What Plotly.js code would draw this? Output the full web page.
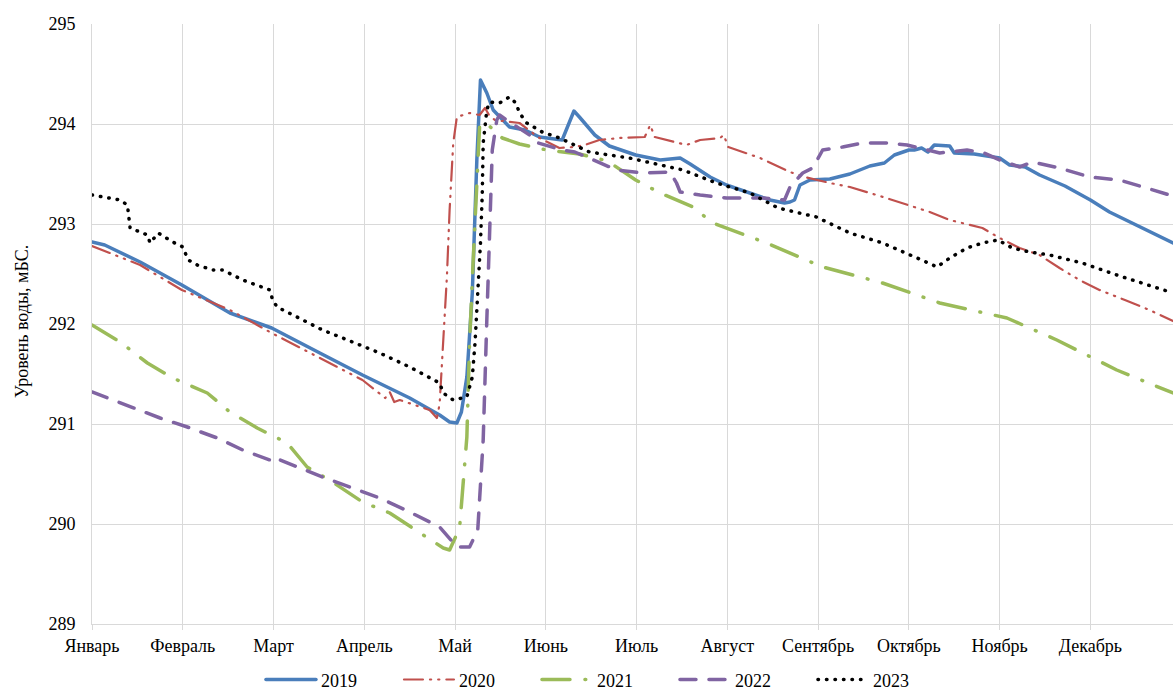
<!DOCTYPE html>
<html>
<head>
<meta charset="utf-8">
<script src="https://cdn.plot.ly/plotly-3.0.1.min.js"></script>
<style>
  html, body { margin: 0; padding: 0; background: #fff; }
  #chart { width: 1173px; height: 690px; }
  .scatterlayer .js-line, .legendlines path { stroke-linecap: round; stroke-linejoin: round; }
</style>
</head>
<body>
<div id="chart"></div>
<script>
// Month ticks (x positions are month indices, 0 = January)
const monthTicks = [0,1,2,3,4,5,6,7,8,9,10,11];
const monthLabels = ["Январь","Февраль","Март","Апрель","Май","Июнь","Июль","Август","Сентябрь","Октябрь","Ноябрь","Декабрь"];

const x2019 = [0,0.14,0.53,0.99,1.52,1.98,2.51,2.98,3.50,3.83,3.94,4.02,4.07,4.13,4.19,4.24,4.28,4.35,4.42,4.60,4.77,4.93,5.18,5.31,5.37,5.54,5.70,5.99,6.26,6.48,6.59,6.81,6.99,7.25,7.47,7.63,7.69,7.74,7.80,7.91,8.13,8.35,8.57,8.73,8.84,9.00,9.06,9.14,9.21,9.28,9.45,9.50,9.72,10.00,10.11,10.28,10.44,10.72,11.00,11.21,11.43,11.65,11.91];
const y2019 = [292.82,292.79,292.62,292.39,292.11,291.96,291.71,291.49,291.26,291.09,291.02,291.01,291.12,291.47,292.31,293.64,294.44,294.31,294.14,293.97,293.94,293.87,293.84,294.13,294.07,293.89,293.78,293.69,293.64,293.66,293.60,293.47,293.39,293.31,293.24,293.21,293.22,293.24,293.39,293.44,293.45,293.50,293.58,293.61,293.69,293.74,293.74,293.76,293.72,293.79,293.78,293.71,293.70,293.66,293.59,293.57,293.49,293.38,293.24,293.12,293.02,292.92,292.81];

const x2020 = [0,0.53,0.99,1.52,1.98,2.51,2.98,3.23,3.28,3.33,3.39,3.72,3.80,3.83,3.87,3.91,3.94,3.98,4.02,4.16,4.27,4.33,4.38,4.44,4.71,4.93,5.15,5.32,5.43,5.59,5.81,6.09,6.15,6.20,6.55,6.70,6.92,6.96,7.01,7.36,7.69,7.85,8.13,8.35,8.68,9.00,9.23,9.45,9.81,10.00,10.22,10.44,10.66,10.88,11.10,11.38,11.65,11.91];
const y2020 = [292.78,292.59,292.34,292.14,291.91,291.66,291.44,291.26,291.32,291.22,291.24,291.14,291.06,291.20,291.81,292.47,293.14,293.81,294.07,294.11,294.09,294.16,294.08,294.04,294.01,293.86,293.76,293.77,293.79,293.84,293.86,293.87,293.99,293.87,293.79,293.84,293.86,293.89,293.77,293.66,293.52,293.47,293.41,293.37,293.28,293.19,293.12,293.04,292.96,292.86,292.76,292.69,292.56,292.44,292.34,292.24,292.14,292.03];

const x2021 = [0,0.31,0.61,0.89,1.27,1.52,1.82,2.15,2.37,2.65,2.98,3.28,3.65,3.87,3.94,4.05,4.13,4.16,4.20,4.24,4.27,4.33,4.52,4.71,5.01,5.37,5.68,5.99,6.26,6.62,6.84,7.43,8.05,8.71,9.34,10.08,10.63,11.29,11.91];
const y2021 = [291.99,291.82,291.61,291.46,291.31,291.12,290.96,290.81,290.57,290.42,290.22,290.11,289.89,289.76,289.74,289.96,290.87,291.81,292.64,293.47,293.97,294.02,293.86,293.80,293.74,293.70,293.63,293.44,293.31,293.17,293.01,292.81,292.57,292.41,292.21,292.06,291.84,291.54,291.31];

const x2022 = [0,0.42,0.75,1.05,1.38,1.66,1.96,1.99,2.26,2.54,2.87,3.17,3.50,3.83,4.02,4.16,4.25,4.31,4.35,4.38,4.41,4.46,4.49,4.60,4.82,4.88,5.18,5.32,5.78,6.07,6.37,6.44,6.48,6.70,6.99,7.39,7.63,7.69,7.83,7.94,8.05,8.27,8.49,8.76,8.98,9.34,9.64,9.83,10.00,10.22,10.36,10.66,10.99,11.32,11.62,11.91];
const y2022 = [291.32,291.17,291.06,290.97,290.86,290.74,290.64,290.67,290.57,290.47,290.36,290.26,290.12,289.97,289.77,289.77,289.94,290.84,292.04,293.04,293.74,294.04,294.09,294.02,293.89,293.82,293.74,293.72,293.54,293.51,293.52,293.41,293.32,293.29,293.26,293.26,293.24,293.37,293.51,293.56,293.74,293.77,293.81,293.81,293.79,293.71,293.74,293.71,293.64,293.57,293.62,293.56,293.47,293.44,293.36,293.28];

const x2023 = [0,0.31,0.39,0.40,0.42,0.61,0.64,0.73,0.89,1.00,1.06,1.16,1.33,1.44,1.66,1.96,1.99,2.04,2.26,2.54,2.87,3.17,3.50,3.83,3.87,3.98,4.13,4.19,4.22,4.25,4.28,4.30,4.31,4.35,4.38,4.49,4.60,4.67,4.71,4.79,4.96,5.15,5.48,5.92,6.26,6.51,6.88,7.25,7.56,7.98,8.35,8.71,9.09,9.31,9.45,9.64,9.81,9.98,10.14,10.33,10.55,10.91,11.29,11.91];
const y2023 = [293.29,293.24,293.19,293.11,292.96,292.89,292.81,292.91,292.82,292.77,292.64,292.59,292.54,292.54,292.44,292.34,292.24,292.17,292.07,291.94,291.82,291.71,291.57,291.41,291.31,291.24,291.27,291.47,291.81,292.31,292.81,293.31,293.81,294.14,294.22,294.21,294.27,294.21,294.11,294.01,293.92,293.86,293.72,293.66,293.59,293.54,293.41,293.31,293.16,293.07,292.91,292.81,292.66,292.57,292.66,292.76,292.81,292.84,292.76,292.72,292.69,292.61,292.49,292.31];

const seriesNames = ["2019","2020","2021","2022","2023"];

const FONT = '"Liberation Serif", "Times New Roman", serif';

const traces = [
  {x: x2019, y: y2019, name: seriesNames[0], mode: 'lines',
   line: {color: '#4a7ebb', width: 3.5}},
  {x: x2020, y: y2020, name: seriesNames[1], mode: 'lines',
   line: {color: '#c0504d', width: 2.2, dash: '19px,7px,1.2px,7px,1.2px,7px'}},
  {x: x2021, y: y2021, name: seriesNames[2], mode: 'lines',
   line: {color: '#9bbb59', width: 3.5, dash: '28px,15px,0.8px,15px'}},
  {x: x2022, y: y2022, name: seriesNames[3], mode: 'lines',
   line: {color: '#8064a2', width: 3.5, dash: '16px,13px'}},
  {x: x2023, y: y2023, name: seriesNames[4], mode: 'lines',
   line: {color: '#000000', width: 3.5, dash: '0.5px,8px'}}
];

const layout = {
  width: 1173, height: 690,
  paper_bgcolor: '#ffffff', plot_bgcolor: '#ffffff',
  margin: {l: 92, r: 0, t: 24, b: 66, autoexpand: false},
  font: {family: FONT, size: 18, color: '#000'},
  showlegend: true,
  legend: {
    orientation: 'h', x: 0.1563, xanchor: 'left', y: -0.093, yanchor: 'middle',
    font: {family: FONT, size: 18, color: '#000'},
    itemwidth: 50, entrywidth: 73, entrywidthmode: 'pixels',
    bgcolor: 'rgba(0,0,0,0)'
  },
  xaxis: {
    range: [0, 11.91], tickmode: 'array', tickvals: monthTicks, ticktext: monthLabels,
    showgrid: true, gridcolor: '#d9d9d9', gridwidth: 1,
    showline: true, linecolor: '#d9d9d9', linewidth: 1,
    ticks: 'outside', ticklen: 5, tickcolor: '#d9d9d9',
    zeroline: false, tickfont: {family: FONT, size: 18, color: '#000'}
  },
  yaxis: {
    range: [289, 295], tickmode: 'linear', tick0: 289, dtick: 1,
    showgrid: true, gridcolor: '#d9d9d9', gridwidth: 1,
    showline: true, linecolor: '#d9d9d9', linewidth: 1,
    ticks: 'outside', ticklen: 12, tickcolor: 'rgba(0,0,0,0)',
    zeroline: false, tickfont: {family: FONT, size: 18, color: '#000'}
  },
  annotations: [{
    text: 'Уровень воды, мБС.', textangle: -90,
    xref: 'paper', yref: 'paper', x: -0.0648, y: 0.505,
    xanchor: 'center', yanchor: 'middle', showarrow: false,
    font: {family: FONT, size: 18, color: '#000'}
  }]
};

Plotly.newPlot('chart', traces, layout, {displayModeBar: false, staticPlot: true});
</script>
</body>
</html>
